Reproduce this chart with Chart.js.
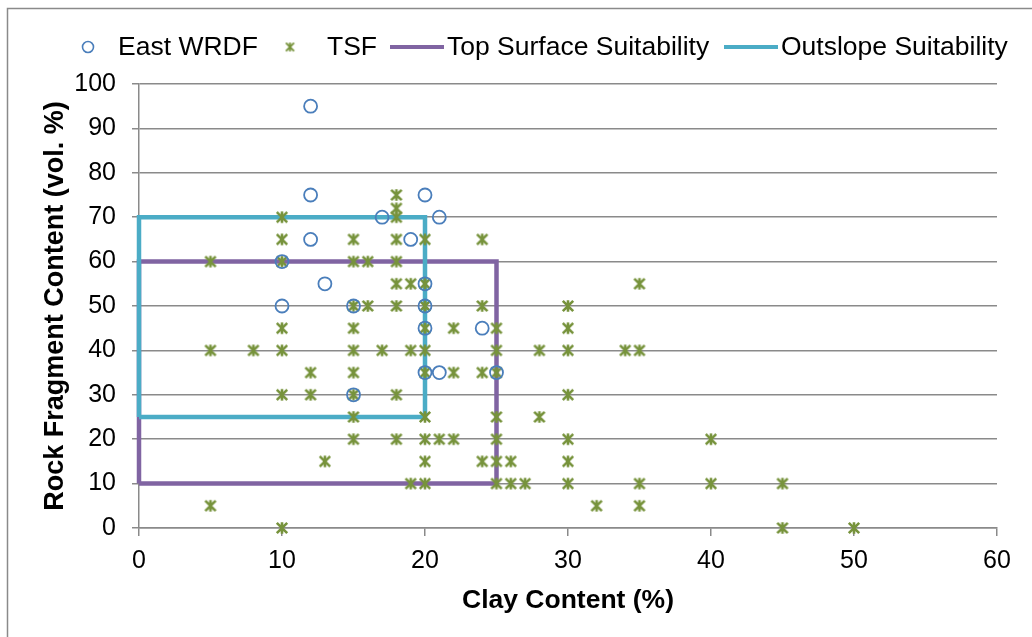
<!DOCTYPE html>
<html>
<head>
<meta charset="utf-8">
<script src="https://cdn.jsdelivr.net/npm/chart.js@4.4.1/dist/chart.umd.min.js"></script>
<style>
  body { margin: 0; background: #fff; }
  #wrap { width: 1032px; height: 637px; position: relative; }
</style>
</head>
<body>
<div id="wrap"><canvas id="rockChart"></canvas></div>
<script>
// East WRDF samples
const wrdfClay = [12, 12, 12, 20, 17, 21, 19, 10, 13, 10, 15, 20, 20, 20, 24, 20, 21, 25, 15];
const wrdfRock = [95, 75, 65, 75, 70, 70, 65, 60, 55, 50, 50, 55, 50, 45, 45, 35, 35, 35, 30];

// TSF samples
const tsfClay = [10, 10, 10, 5, 15, 15, 16, 18, 18, 18, 18, 18, 20, 24,
    18, 19, 20, 35,
    15, 16, 18, 20, 24, 30,
    10, 15, 20, 22, 25, 30,
    5, 8, 10, 15, 17, 19, 20, 25, 28, 30, 34, 35,
    12, 15, 20, 22, 24, 25,
    10, 12, 15, 18, 30,
    15, 20, 25, 28,
    15, 18, 20, 21, 22, 25, 30, 40,
    13, 20, 24, 25, 26, 30,
    19, 20, 25, 26, 27, 30, 35, 40, 45,
    5, 32, 35,
    10, 45, 50];
const tsfRock = [70, 65, 60, 60, 65, 60, 60, 75, 72, 70, 65, 60, 65, 65,
    55, 55, 55, 55,
    50, 50, 50, 50, 50, 50,
    45, 45, 45, 45, 45, 45,
    40, 40, 40, 40, 40, 40, 40, 40, 40, 40, 40, 40,
    35, 35, 35, 35, 35, 35,
    30, 30, 30, 30, 30,
    25, 25, 25, 25,
    20, 20, 20, 20, 20, 20, 20, 20,
    15, 15, 15, 15, 15, 15,
    10, 10, 10, 10, 10, 10, 10, 10, 10,
    5, 5, 5,
    0, 0, 0];

// suitability boxes (closed outlines)
const topClay = [0, 0, 25, 25, 0];
const topRock = [10, 60, 60, 10, 10];
const outClay = [0, 0, 20, 20, 0];
const outRock = [25, 70, 70, 25, 25];

const xTicks = [0, 10, 20, 30, 40, 50, 60];
const yTicks = [0, 10, 20, 30, 40, 50, 60, 70, 80, 90, 100];

const FONT = '"Liberation Sans", Arial, sans-serif';
const GRID = '#8a8a8a';

function pts(xs, ys) {
    return xs.map((x, i) => ({ x: x, y: ys[i] }));
}

// asterisk-like marker: X with a vertical bar
function makeStar(size, lw) {
    const c = document.createElement('canvas');
    c.width = size; c.height = size;
    const g = c.getContext('2d');
    g.strokeStyle = '#77933c';
    g.lineWidth = lw;
    const a = lw / 2 + 0.5, b = size - a, m = size / 2;
    g.beginPath();
    g.moveTo(a, a); g.lineTo(b, b);
    g.moveTo(b, a); g.lineTo(a, b);
    g.moveTo(m, a - 0.5); g.lineTo(m, b + 0.5);
    g.stroke();
    return c;
}
const starIcon = makeStar(14, 2.6);
const starSmall = makeStar(11, 1.9);

const frame = {
    id: 'frame',
    beforeDraw(chart) {
        const c = chart.ctx;
        c.save();
        c.strokeStyle = GRID;
        c.lineWidth = 1.5;
        c.beginPath();
        c.moveTo(7.5, 700);
        c.lineTo(7.5, 8.5);
        c.lineTo(1100, 8.5);
        c.stroke();
        c.restore();
    }
};

const legendBar = {
    id: 'legendBar',
    afterDraw(chart) {
        const c = chart.ctx;
        const y = 47;
        c.save();
        c.font = '26.5px ' + FONT;
        c.fillStyle = '#000';
        c.textBaseline = 'middle';
        // East WRDF
        c.strokeStyle = '#4a7ebb';
        c.lineWidth = 1.6;
        c.beginPath();
        c.arc(88, y, 5.5, 0, Math.PI * 2);
        c.stroke();
        c.fillText('East WRDF', 118, y + 1);
        // TSF
        c.drawImage(starSmall, 290 - 5.5, y - 5.5);
        c.fillText('TSF', 327, y + 1);
        // Top Surface
        c.lineWidth = 4;
        c.strokeStyle = '#8064a2';
        c.beginPath(); c.moveTo(390, y); c.lineTo(444, y); c.stroke();
        c.fillText('Top Surface Suitability', 447, y + 1);
        // Outslope
        c.strokeStyle = '#4bacc6';
        c.beginPath(); c.moveTo(724, y); c.lineTo(778, y); c.stroke();
        c.fillText('Outslope Suitability', 781, y + 1);
        c.restore();
    }
};

const ctx = document.getElementById('rockChart').getContext('2d');

const rockChart = new Chart(ctx, {
    type: 'scatter',
    data: {
        datasets: [{
            label: 'East WRDF',
            data: pts(wrdfClay, wrdfRock),
            pointStyle: 'circle',
            pointRadius: 6.5,
            pointBorderWidth: 1.8,
            borderColor: '#4a7ebb',
            backgroundColor: 'rgba(0,0,0,0)',
            clip: false,
            order: 0
        }, {
            label: 'TSF',
            data: pts(tsfClay, tsfRock),
            pointStyle: starIcon,
            borderColor: '#77933c',
            backgroundColor: '#77933c',
            clip: false,
            order: 1
        }, {
            label: 'Top Surface Suitability',
            data: pts(topClay, topRock),
            showLine: true,
            borderColor: '#8064a2',
            borderWidth: 4.5,
            pointRadius: 0,
            tension: 0,
            clip: false,
            order: 3
        }, {
            label: 'Outslope Suitability',
            data: pts(outClay, outRock),
            showLine: true,
            borderColor: '#4bacc6',
            borderWidth: 4.5,
            pointRadius: 0,
            tension: 0,
            clip: false,
            order: 2
        }]
    },
    options: {
        responsive: true,
        maintainAspectRatio: false,
        animation: false,
        layout: {
            padding: { top: 84, right: 35, left: 7, bottom: 0 }
        },
        plugins: {
            legend: { display: false },
            tooltip: { enabled: false }
        },
        scales: {
            x: {
                type: 'linear',
                min: 0,
                max: 60,
                afterFit: s => { s.height = 109; },
                afterBuildTicks: s => { s.ticks = xTicks.map(v => ({ value: v })); },
                ticks: {
                    color: '#000',
                    padding: 10,
                    font: { family: FONT, size: 25 }
                },
                grid: {
                    drawOnChartArea: false,
                    color: GRID,
                    lineWidth: 1.5,
                    tickLength: 8
                },
                border: { color: GRID, width: 1.5 },
                title: {
                    display: true,
                    text: 'Clay Content (%)',
                    color: '#000',
                    padding: 20,
                    font: { family: FONT, size: 26.5, weight: 'bold' }
                }
            },
            y: {
                min: 0,
                max: 100,
                afterFit: s => { s.width = 132; },
                afterBuildTicks: s => { s.ticks = yTicks.map(v => ({ value: v })); },
                ticks: {
                    color: '#000',
                    padding: 16,
                    font: { family: FONT, size: 25 }
                },
                grid: {
                    color: GRID,
                    lineWidth: 1.5,
                    tickLength: 7
                },
                border: { color: GRID, width: 1.5 },
                title: {
                    display: true,
                    text: 'Rock Fragment Content (vol. %)',
                    color: '#000',
                    padding: 32,
                    font: { family: FONT, size: 27, weight: 'bold' }
                }
            }
        }
    },
    plugins: [frame, legendBar]
});
</script>
</body>
</html>
